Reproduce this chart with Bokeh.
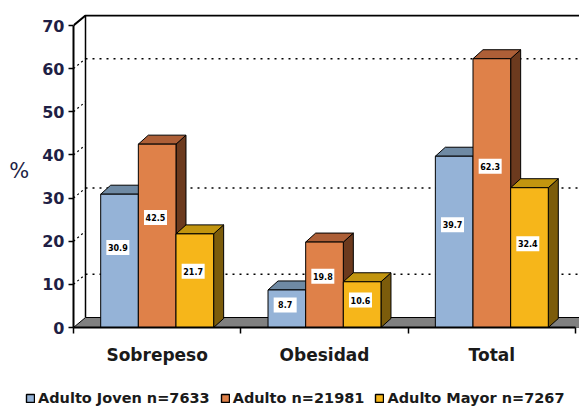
from bokeh.plotting import figure
from bokeh.layouts import column, row
from bokeh.models import Range1d, FixedTicker, Legend, LegendItem, ColumnDataSource
from bokeh.core.properties import value
from bokeh.embed import file_html
from bokeh.resources import INLINE

# ---------------- data ----------------
categories = ["Sobrepeso", "Obesidad", "Total"]
series_names = ["Adulto Joven n=7633", "Adulto n=21981", "Adulto Mayor n=7267"]
adulto_joven = [30.9, 8.7, 39.7]
adulto = [42.5, 19.8, 62.3]
adulto_mayor = [21.7, 10.6, 32.4]
label_texts_joven = ["30.9", "8.7", "39.7"]
label_texts_adulto = ["42.5", "19.8", "62.3"]
label_texts_mayor = ["21.7", "10.6", "32.4"]
y_ticks = [0, 10, 20, 30, 40, 50, 60, 70]
grid_values = [10, 30, 60]

# ---------------- style ----------------
front_colors = ["#95b3d7", "#df8149", "#f6b61a"]
top_colors = ["#6f8aa4", "#ad5f37", "#c2950f"]
side_colors = ["#556b82", "#6c3a1e", "#7c5c0b"]
text_navy = "#1f1f45"
FONT = "DejaVu Sans"

W, H = 579, 408
left_px, top_px, bottom_px = 73, 14, 327
main_bottom_border = 42
legend_h = H - (bottom_px + main_bottom_border)
frame_w = W - left_px
frame_h = bottom_px - top_px
px_per_x = 502 / 3.0
px_per_y = 302 / 70.0
x_end = frame_w / px_per_x
y_end = frame_h / px_per_y

dxw, dyw = 12 / px_per_x, 10 / px_per_y      # wall depth
dxb, dyb = 10 / px_per_x, 9 / px_per_y       # bar depth
bar_w = 0.225
offsets = [-0.225, 0.0, 0.225]
label_frac = 0.6
cat_label_pos = [i + 0.5 for i in range(len(categories))]

p = figure(frame_width=frame_w, frame_height=frame_h, output_backend="svg", toolbar_location=None,
           x_range=Range1d(0, x_end), y_range=Range1d(0, y_end),
           min_border_left=left_px, min_border_top=top_px,
           min_border_right=0, min_border_bottom=main_bottom_border)
p.outline_line_color = None
p.xgrid.visible = False
p.ygrid.visible = False
p.background_fill_color = "white"

ymax = y_ticks[-1]
ncat = len(categories)

# back wall outline
p.line([0, dxw, x_end + 0.1], [ymax, ymax + dyw, ymax + dyw], line_color="black", line_width=2)
p.line([dxw, dxw], [dyw, ymax + dyw], line_color="black", line_width=1.5)

# gridlines on back wall (dotted)
for g in grid_values:
    p.line([dxw, x_end + 0.1], [g + dyw, g + dyw], line_color="black", line_width=1.5, line_dash="2 5")
for t in y_ticks[1:-1]:
    p.line([0, dxw], [t, t + dyw], line_color="black", line_width=1.2, line_dash="2 3")

# floor
p.patch([0, dxw, x_end + 0.1, x_end + 0.1], [0, dyw, dyw, 0],
        fill_color="#808080", line_color="black", line_width=1)

all_vals = [adulto_joven, adulto, adulto_mayor]
all_labels = [label_texts_joven, label_texts_adulto, label_texts_mayor]
for s, vals in enumerate(all_vals):
    x0 = [i + 0.5 + offsets[s] - bar_w / 2 for i in range(ncat)]
    x1 = [a + bar_w for a in x0]
    sx = [[b, b + dxb, b + dxb, b] for b in x1]
    sy = [[0, dyb, v + dyb, v] for v in vals]
    p.patches(sx, sy, fill_color=side_colors[s], line_color="black", line_width=1)
    tx = [[a, a + dxb, b + dxb, b] for a, b in zip(x0, x1)]
    ty = [[v, v + dyb, v + dyb, v] for v in vals]
    p.patches(tx, ty, fill_color=top_colors[s], line_color="black", line_width=1)
    src = ColumnDataSource(dict(left=x0, right=x1, top=vals, bottom=[0] * ncat))
    p.quad(left="left", right="right", top="top", bottom="bottom", source=src,
           fill_color=front_colors[s], line_color="black", line_width=1)

for s, vals in enumerate(all_vals):
    cx = [i + 0.5 + offsets[s] - 0.01 for i in range(ncat)]
    cy = [v * label_frac for v in vals]
    p.rect(x=cx, y=cy, width=23, height=15, width_units="screen", height_units="screen",
           fill_color="white", line_color=None)
    p.text(x=cx, y=cy, text=all_labels[s], text_align="center", text_baseline="middle",
           text_font=value(FONT), text_font_size="8px", text_font_style="bold",
           text_color="black")

ya = p.yaxis[0]
ya.ticker = FixedTicker(ticks=y_ticks)
ya.bounds = (0, ymax)
ya.axis_line_width = 2
ya.axis_line_color = "black"
ya.major_tick_out = 5
ya.major_tick_in = 0
ya.major_tick_line_width = 1.5
ya.minor_tick_line_color = None
ya.major_label_text_font = FONT
ya.major_label_text_font_size = "16px"
ya.major_label_text_font_style = "bold"
ya.major_label_text_color = text_navy
ya.major_label_standoff = 4
ya.axis_label = "%"
ya.axis_label_orientation = "horizontal"
ya.axis_label_text_font = FONT
ya.axis_label_text_font_size = "21px"
ya.axis_label_text_font_style = "normal"
ya.axis_label_text_color = text_navy
ya.axis_label_standoff = 10

xa = p.xaxis[0]
xa.ticker = FixedTicker(ticks=cat_label_pos, minor_ticks=list(range(ncat + 1)))
xa.major_label_overrides = {pos: c for pos, c in zip(cat_label_pos, categories)}
xa.bounds = (0, ncat)
xa.axis_line_width = 2
xa.axis_line_color = "black"
xa.major_tick_out = 0
xa.major_tick_in = 0
xa.minor_tick_out = 6
xa.minor_tick_in = 0
xa.minor_tick_line_width = 1.5
xa.minor_tick_line_color = "black"
xa.major_label_text_font = FONT
xa.major_label_text_font_size = "17px"
xa.major_label_text_font_style = "bold"
xa.major_label_text_color = "#1a1a1a"
xa.major_label_standoff = 11

# ---------------- legend strip ----------------
pl = figure(width=W, height=legend_h, output_backend="svg", toolbar_location=None,
            x_range=Range1d(0, 1), y_range=Range1d(0, 1),
            x_axis_type=None, y_axis_type=None,
            min_border_left=0, min_border_right=0, min_border_top=0, min_border_bottom=0)
pl.outline_line_color = None
pl.xgrid.visible = False
pl.ygrid.visible = False
leg_renderers = [pl.quad(left=[-10], right=[-9], top=[-10], bottom=[-11], fill_color=front_colors[k],
                         line_color="black", line_width=1.4) for k in range(3)]
legend = Legend(items=[LegendItem(label=series_names[k], renderers=[leg_renderers[k]]) for k in range(3)],
                orientation="horizontal", location=(25, 2),
                border_line_color=None, background_fill_alpha=0,
                glyph_width=10, glyph_height=10, label_standoff=3, spacing=10,
                label_height=14, padding=0, margin=0,
                label_text_font=FONT, label_text_font_size="14.5px",
                label_text_font_style="bold", label_text_color="#1a1a1a")
pl.add_layout(legend, "center")

layout = column(p, row(pl), spacing=0)
open("out.html", "w").write(file_html(layout, INLINE))
